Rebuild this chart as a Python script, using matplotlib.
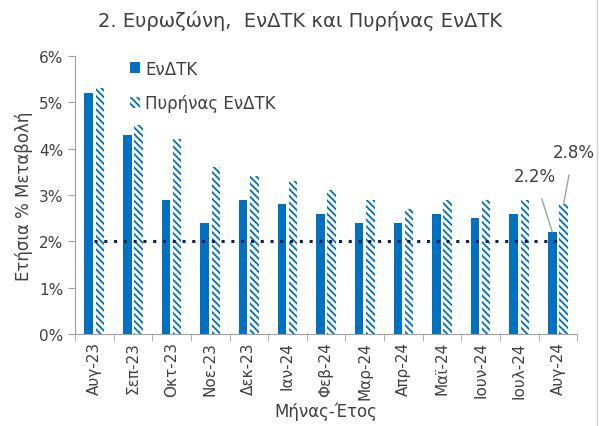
import numpy as np
import matplotlib
matplotlib.use("Agg")
import matplotlib.pyplot as plt
from matplotlib.ticker import FuncFormatter

plt.rcParams['font.family'] = ['DejaVu Sans']
plt.rcParams['hatch.linewidth'] = 1.3

months = ["Αυγ-23", "Σεπ-23", "Οκτ-23", "Νοε-23", "Δεκ-23", "Ιαν-24", "Φεβ-24",
          "Μαρ-24", "Απρ-24", "Μαϊ-24", "Ιουν-24", "Ιουλ-24", "Αυγ-24"]
hicp = [5.2, 4.3, 2.9, 2.4, 2.9, 2.8, 2.6, 2.4, 2.4, 2.6, 2.5, 2.6, 2.2]
core = [5.3, 4.5, 4.2, 3.6, 3.4, 3.3, 3.1, 2.9, 2.7, 2.9, 2.9, 2.9, 2.8]
target = 2.0

blue = "#0070c0"
navy = "#0a1f5c"
grey = "#404040"

fig = plt.figure(figsize=(6, 4.27), dpi=100)
ax = fig.add_axes([0.125, 0.215, 0.837, 0.652])

x = np.arange(len(months))
w = 0.22
ax.bar(x - 0.145, hicp, w, color=blue, label="ΕνΔΤΚ")
ax.bar(x + 0.145, core, w, facecolor="white", edgecolor=blue, hatch="\\\\\\\\\\",
       linewidth=0, label="Πυρήνας ΕνΔΤΚ")
ax.plot([x[0], x[-1]], [target, target], color=navy, linestyle=(0, (1, 2.2)),
        linewidth=2.2)

ax.set_xlim(-0.5, len(months) - 0.5)
ax.set_ylim(0, 6)
ax.set_yticks(np.arange(0, 7, 1))
ax.yaxis.set_major_formatter(FuncFormatter(lambda v, p: f"{v:.0f}%"))
ax.set_xticks(x)
ax.set_xticklabels(months, rotation=90, fontsize=11, color=grey)
ax.set_xticks(np.arange(-0.5, len(months), 1), minor=True)
ax.tick_params(axis='x', which='major', length=0, pad=5)
ax.tick_params(axis='x', which='minor', length=5, color="#a0a0a0")
ax.tick_params(axis='y', length=5, color="#a0a0a0", labelsize=11, labelcolor=grey)

for s in ["top", "right"]:
    ax.spines[s].set_visible(False)
for s in ["left", "bottom"]:
    ax.spines[s].set_color("#a0a0a0")

ax.set_ylabel("Ετήσια % Μεταβολή", fontsize=12, color=grey, labelpad=4)
ax.set_xlabel("Μήνας-Έτος", fontsize=12, color=grey, labelpad=2)

fig.suptitle("2. Ευρωζώνη,  ΕνΔΤΚ και Πυρήνας ΕνΔΤΚ", fontsize=14, color=grey,
             y=0.975)

ax.legend(loc="upper left", bbox_to_anchor=(0.08, 1.04), frameon=False,
          fontsize=12, labelcolor=grey, handlelength=0.6, handleheight=0.6,
          handletextpad=0.3, labelspacing=1.0)

ax.annotate(f"{hicp[-1]}%", xy=(x[-1] - 0.145, hicp[-1]), xytext=(x[-1] - 0.6, 3.4),
            fontsize=12, color=grey, ha="center", va="center",
            arrowprops=dict(arrowstyle="-", color="#a0a0a0", lw=1, shrinkA=8, shrinkB=0))
ax.annotate(f"{core[-1]}%", xy=(x[-1] + 0.145, core[-1]), xytext=(x[-1] + 0.4, 3.92),
            fontsize=12, color=grey, ha="center", va="center",
            arrowprops=dict(arrowstyle="-", color="#a0a0a0", lw=1, shrinkA=8, shrinkB=0),
            annotation_clip=False)

fig.add_artist(plt.Line2D([0.995, 0.995], [0, 1], color="#d0d0d0", lw=1,
                          transform=fig.transFigure))

fig.savefig("out.png", dpi=100)
